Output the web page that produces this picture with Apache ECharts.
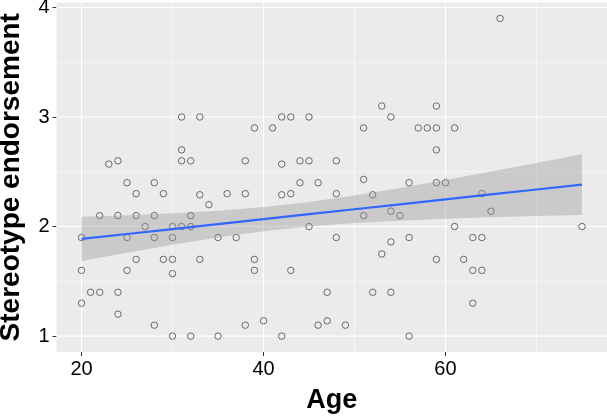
<!DOCTYPE html>
<html>
<head>
<meta charset="utf-8">
<script src="https://cdn.jsdelivr.net/npm/echarts@6/dist/echarts.min.js"></script>
<style>html,body{margin:0;padding:0;background:#fff}#c{width:607px;height:420px}</style>
</head>
<body>
<div id="c"></div>
<script>
// observed points
const ages = [31,31,23,24,31,32,25,28,26,29,22,24,26,28,32,27,30,31,32,20,25,28,30,26,29,30,20,25,30,21,22,24,20,24,28,30,32,
  33,39,41,42,43,45,38,42,44,45,44,46,33,34,36,38,42,43,45,35,37,33,39,39,43,38,40,46,35,42,
  53,54,59,51,57,58,59,61,59,48,51,56,59,60,48,52,51,54,55,61,48,53,54,56,59,62,47,52,54,47,49,56,
  66,64,65,75,63,64,63,64,63];
const scores = [3.0,2.7,2.57,2.6,2.6,2.6,2.4,2.4,2.3,2.3,2.1,2.1,2.1,2.1,2.1,2.0,2.0,2.0,2.0,1.9,1.9,1.9,1.9,1.7,1.7,1.7,1.6,1.6,1.57,1.4,1.4,1.4,1.3,1.2,1.1,1.0,1.0,
  3.0,2.9,2.9,3.0,3.0,3.0,2.6,2.57,2.6,2.6,2.4,2.4,2.29,2.2,2.3,2.3,2.29,2.3,2.0,1.9,1.9,1.7,1.7,1.6,1.6,1.1,1.14,1.1,1.0,1.0,
  3.1,3.0,3.1,2.9,2.9,2.9,2.9,2.9,2.7,2.6,2.43,2.4,2.4,2.4,2.3,2.29,2.1,2.14,2.1,2.0,1.9,1.75,1.86,1.9,1.7,1.7,1.4,1.4,1.4,1.14,1.1,1.0,
  3.9,2.3,2.14,2.0,1.9,1.9,1.6,1.6,1.3];
// fitted line and confidence band
const fitX = [20,25,30,35,40,45,50,55,60,65,70,75];
const fitY = [1.887,1.932,1.977,2.022,2.067,2.113,2.158,2.203,2.248,2.293,2.338,2.383];
const bandLow = [1.685,1.761,1.833,1.900,1.956,2.001,2.032,2.054,2.071,2.085,2.096,2.106];
const bandHigh = [2.089,2.103,2.121,2.145,2.178,2.225,2.284,2.352,2.425,2.502,2.580,2.660];
// axis ticks
const xTicks = [20,40,60];
const xMinor = [30,50,70];
const yTicks = [1,2,3,4];
const yMinor = [1.5,2.5,3.5];

const chart = echarts.init(document.getElementById('c'), null, {renderer:'canvas'});
const FONT = 'Liberation Sans, Arial, Helvetica, sans-serif';

const xGridData = xTicks.map(v => [v, 1.1]).concat(xMinor.map(v => [v, 0.55]));
const yGridData = yTicks.map(v => [v, 1.1]).concat(yMinor.map(v => [v, 0.55]));

const option = {
  animation: false,
  grid: {left: 56.5, right: 0, top: 2.5, bottom: 68, show: true, backgroundColor: '#EBEBEB', borderWidth: 0,
         containLabel: false, outerBoundsMode: 'none'},
  xAxis: {
    type: 'value', min: 17.25, max: 77.75,
    splitLine: {show: false},
    axisLine: {show: false},
    axisTick: {show: true, customValues: xTicks, length: 4, lineStyle: {color: '#333', width: 1}},
    axisLabel: {customValues: xTicks, color: '#000', fontSize: 20, fontFamily: FONT, margin: 7},
    name: 'Age', nameLocation: 'middle', nameGap: 35,
    nameTextStyle: {fontSize: 27, fontWeight: 'bold', color: '#000', fontFamily: FONT}
  },
  yAxis: {
    type: 'value', min: 0.855, max: 4.045,
    splitLine: {show: false},
    axisLine: {show: false},
    axisTick: {show: true, customValues: yTicks, length: 4, lineStyle: {color: '#333', width: 1}},
    axisLabel: {customValues: yTicks, color: '#000', fontSize: 20, fontFamily: FONT, margin: 7},
    name: 'Stereotype endorsement', nameLocation: 'middle', nameGap: 31, nameRotate: 90,
    nameTextStyle: {fontSize: 28, fontWeight: 'bold', color: '#000', fontFamily: FONT}
  },
  series: [
    {
      type: 'custom', z: 1, silent: true, data: xGridData,
      renderItem: function (params, api) {
        const p = api.coord([api.value(0), 2]);
        const cs = params.coordSys;
        return {type: 'line', shape: {x1: p[0], y1: cs.y, x2: p[0], y2: cs.y + cs.height},
                style: {stroke: '#FFFFFF', lineWidth: api.value(1)}};
      }
    },
    {
      type: 'custom', z: 1, silent: true, data: yGridData,
      encode: {x: 1, y: 0},
      renderItem: function (params, api) {
        const p = api.coord([40, api.value(0)]);
        const cs = params.coordSys;
        return {type: 'line', shape: {x1: cs.x, y1: p[1], x2: cs.x + cs.width, y2: p[1]},
                style: {stroke: '#FFFFFF', lineWidth: api.value(1)}};
      }
    },
    {
      type: 'scatter', z: 2, silent: true,
      data: ages.map((a, i) => [a, scores[i]]),
      symbol: 'circle', symbolSize: 6.5,
      itemStyle: {color: 'rgba(0,0,0,0)', borderColor: '#4a4a4a', borderWidth: 0.8, opacity: 1}
    },
    {
      type: 'custom', z: 3, silent: true, data: [[fitX[0], fitY[0]]],
      renderItem: function (params, api) {
        const pts = [];
        for (let i = 0; i < fitX.length; i++) pts.push(api.coord([fitX[i], bandHigh[i]]));
        for (let i = fitX.length - 1; i >= 0; i--) pts.push(api.coord([fitX[i], bandLow[i]]));
        return {type: 'polygon', shape: {points: pts}, style: {fill: 'rgba(153,153,153,0.4)', stroke: null}};
      }
    },
    {
      type: 'line', z: 4, silent: true, showSymbol: false,
      data: fitX.map((x, i) => [x, fitY[i]]),
      lineStyle: {color: '#3366FF', width: 2.2},
      itemStyle: {color: '#3366FF'}
    }
  ]
};
chart.setOption(option);
</script>
</body>
</html>
